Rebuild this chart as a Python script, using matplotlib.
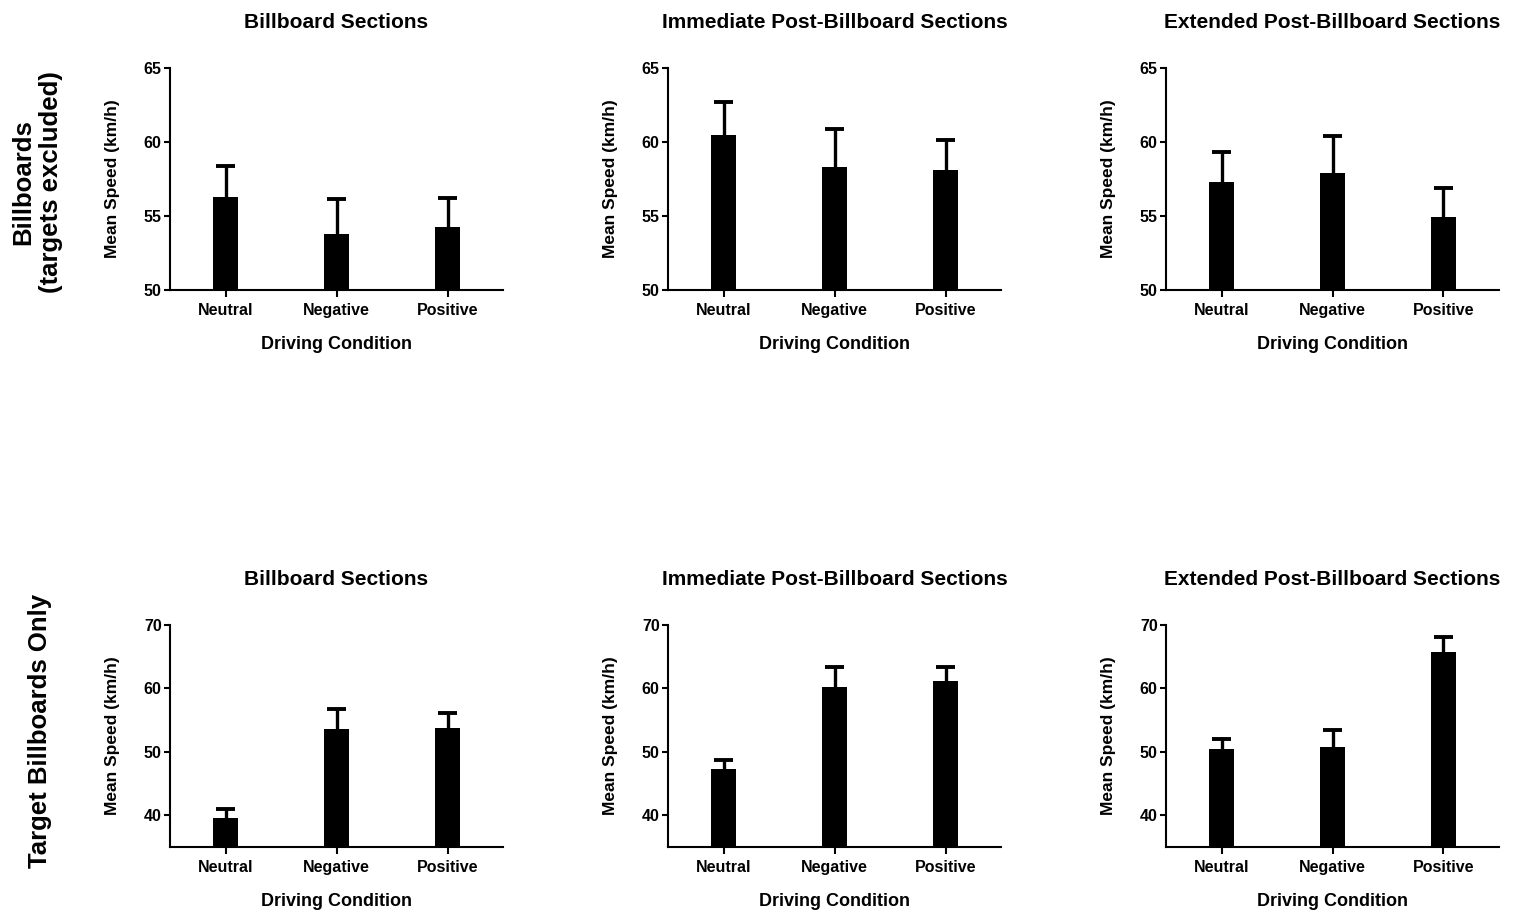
import numpy as np
import matplotlib
matplotlib.use('Agg')
import matplotlib.pyplot as plt

plt.rcParams.update({
    'font.family': ['Liberation Sans', 'DejaVu Sans'],
    'font.weight': 'bold',
    'axes.labelweight': 'bold',
    'axes.titleweight': 'bold',
    'axes.linewidth': 1.5,
})

conditions = ['Neutral', 'Negative', 'Positive']
section_titles = ['Billboard Sections',
                  'Immediate Post-Billboard Sections',
                  'Extended Post-Billboard Sections']
row_labels = ['Billboards\n(targets excluded)', 'Target Billboards Only']

# 上段: targets excluded（平均値と誤差バー上端）
top_means = [[56.27, 53.78, 54.26],
             [60.44, 58.28, 58.10],
             [57.31, 57.92, 54.96]]
top_upper = [[58.37, 56.18, 56.20],
             [62.68, 60.87, 60.15],
             [59.32, 60.42, 56.86]]
# 下段: target billboards only
bot_means = [[39.63, 53.68, 53.84],
             [47.32, 60.26, 61.16],
             [50.47, 50.84, 65.70]]
bot_upper = [[41.05, 56.68, 56.16],
             [48.68, 63.30, 63.40],
             [52.10, 53.40, 68.16]]

W, H = 1518, 919
fig = plt.figure(figsize=(W / 100, H / 100), dpi=100)

col_left = [170, 668, 1166]
ax_w = 333
rows = [dict(top=68, bottom=290, means=top_means, upper=top_upper,
             ylim=(50, 65), yticks=[50, 55, 60, 65]),
        dict(top=625, bottom=847, means=bot_means, upper=bot_upper,
             ylim=(35, 70), yticks=[40, 50, 60, 70])]

x = np.arange(len(conditions))
for r, row in enumerate(rows):
    for c in range(3):
        ax = fig.add_axes([col_left[c] / W, (H - row['bottom']) / H,
                           ax_w / W, (row['bottom'] - row['top']) / H])
        m = np.array(row['means'][c])
        upper = np.array(row['upper'][c])
        ax.bar(x, m - row['ylim'][0], bottom=row['ylim'][0], width=0.22,
               color='black', linewidth=0, zorder=3)
        # 上側だけの誤差バー
        ax.vlines(x, m, upper, color='black', linewidth=2.4, zorder=2)
        ax.hlines(upper, x - 0.085, x + 0.085, color='black',
                  linewidth=2.8, zorder=2)
        ax.set_xlim(-0.5, 2.5)
        ax.set_ylim(*row['ylim'])
        ax.set_yticks(row['yticks'])
        ax.set_xticks(x)
        ax.set_xticklabels(conditions, va='baseline')
        ax.spines['top'].set_visible(False)
        ax.spines['right'].set_visible(False)
        ax.tick_params(axis='y', direction='out', length=4, width=1.5,
                       labelsize=11.5, pad=2)
        ax.tick_params(axis='x', direction='out', length=5, width=1.5,
                       labelsize=11.5, pad=13)
        ax.set_title(section_titles[c], fontsize=15, pad=29)
        ax.set_xlabel('Driving Condition', fontsize=13, labelpad=13)
        ax.set_ylabel('Mean Speed (km/h)', fontsize=12.5, labelpad=17)

fig.text(37 / W, 1 - 182 / H, row_labels[0], rotation=90, ha='center',
         va='center', fontsize=18.5, fontweight='bold', multialignment='center')
fig.text(40 / W, 1 - 731 / H, row_labels[1], rotation=90, ha='center',
         va='center', fontsize=18.5, fontweight='bold')

fig.savefig('out.png', dpi=100, facecolor='white')
